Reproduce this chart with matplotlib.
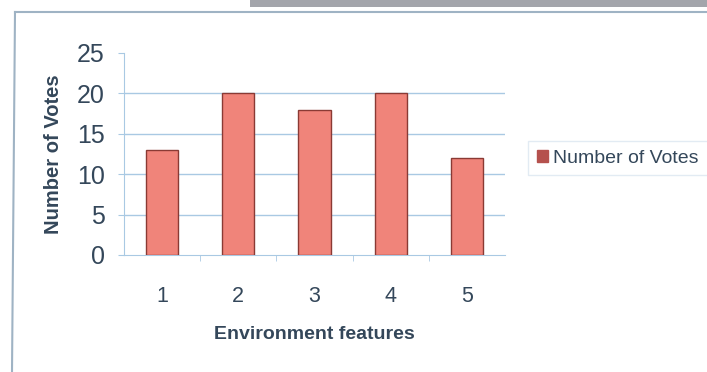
import matplotlib.pyplot as plt
from matplotlib.patches import Rectangle
from matplotlib.lines import Line2D

features = ['1', '2', '3', '4', '5']
votes = [13, 20, 18, 20, 12]
y_ticks = [0, 5, 10, 15, 20, 25]

txt = '#34475a'
bar_face = '#f0847a'
bar_edge = '#8a3a34'
grid_col = '#a9c9e3'

plt.rcParams['font.family'] = ['Liberation Sans', 'DejaVu Sans']

fig = plt.figure(figsize=(7.07, 3.72), dpi=100)
fig.patch.set_facecolor('white')

# scanned page border and grey strip at the top
fig.add_artist(Rectangle((250 / 707, 1 - 7 / 372), 457 / 707, 7 / 372,
                         transform=fig.transFigure, color='#a3a5ab', lw=0))
fig.add_artist(Line2D([15 / 707, 707 / 707], [1 - 12 / 372, 1 - 12 / 372],
                      transform=fig.transFigure, color='#9fb3c4', lw=1.5))
fig.add_artist(Line2D([15 / 707, 12 / 707], [1 - 12 / 372, 0],
                      transform=fig.transFigure, color='#9fb3c4', lw=1.5))

ax = fig.add_axes([124 / 707, 1 - 255 / 372, 381 / 707, 202 / 372])
x = range(len(features))
ax.bar(x, votes, width=0.42, color=bar_face, edgecolor=bar_edge, linewidth=1.0,
       label='Number of Votes', zorder=3)

ax.set_ylim(0, 25)
ax.set_xlim(-0.5, len(features) - 0.5)
ax.set_yticks(y_ticks)
ax.set_xticks(list(x))
ax.set_xticklabels(features)
ax.set_xticks([i + 0.5 for i in range(len(features) - 1)], minor=True)

for v in y_ticks[1:-1]:
    ax.axhline(v, color=grid_col, lw=1.0, zorder=1)

for s in ['top', 'right']:
    ax.spines[s].set_visible(False)
ax.spines['left'].set_color(grid_col)
ax.spines['bottom'].set_color(grid_col)

ax.tick_params(axis='y', colors=grid_col, labelcolor=txt, labelsize=18,
               length=4, pad=10)
ax.tick_params(axis='x', which='major', length=0, labelcolor=txt,
               labelsize=15.5, pad=22)
ax.tick_params(axis='x', which='minor', colors=grid_col, length=4)

ax.set_xlabel('Environment features', fontsize=14, fontweight='bold',
              color=txt, labelpad=14)
ax.set_ylabel('Number of Votes', fontsize=14.5, fontweight='bold',
              color=txt, labelpad=10)

leg = ax.legend(loc='center left', bbox_to_anchor=(1.035, 0.48), fontsize=14,
                frameon=True, fancybox=False, handlelength=0.55,
                handleheight=0.55, handletextpad=0.3, borderpad=0.45)
leg.get_frame().set_edgecolor('#dbe6f0')
leg.get_frame().set_linewidth(1.0)
for t in leg.get_texts():
    t.set_color(txt)
for h in leg.legend_handles:
    h.set_facecolor('#b5514d')
    h.set_edgecolor('#b5514d')

fig.savefig('out.png', dpi=100)
